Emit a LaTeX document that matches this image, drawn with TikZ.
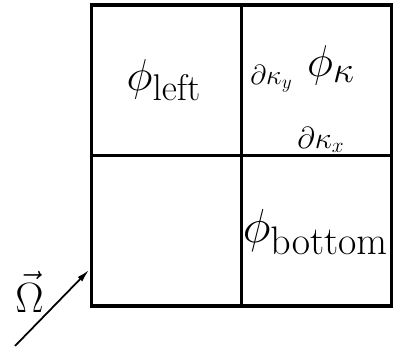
\documentclass[tikz,border=0pt]{standalone}
\usetikzlibrary{arrows.meta}
\begin{document}
\begin{tikzpicture}[x=0.625pt, y=-0.625pt,
    meshline/.style={line width=1.9pt},
    cellval/.style={inner sep=0pt, font=\Huge, scale=1.12},
    faceval/.style={inner sep=0pt, font=\LARGE}]
  \useasboundingbox (0,0) rectangle (394,347);
  % mesh of four cells
  \draw[meshline] (91.5,5) rectangle (391.5,306);
  \draw[meshline] (241.5,5) -- (241.5,306);
  \draw[meshline] (91.5,155.5) -- (391.5,155.5);
  % values in the cells
  \node[cellval] (phileft) at (164,80) {$\phi_{\mathrm{left}}$};
  \node[cellval] (phikappa) at (331,65) {$\phi_\kappa$};
  \node[cellval, scale=1.07] (phibottom) at (315.5,232) {$\phi_{\mathrm{bottom}}$};
  % faces of cell kappa
  \node[faceval] (dky) at (271.5,79) {$\partial\kappa_y$};
  \node[faceval, scale=1.1] (dkx) at (321,140) {$\partial\kappa_x$};
  % direction
  \coordinate (corner) at (89,270);
  \coordinate (tail) at (15,346);
  \draw[line width=1.1pt, -{Latex[length=8pt,width=4pt]}] (tail) -- (corner);
  \node[cellval, scale=0.95] (omega) at (29.5,292) {$\vec{\Omega}$};
\end{tikzpicture}
\end{document}
